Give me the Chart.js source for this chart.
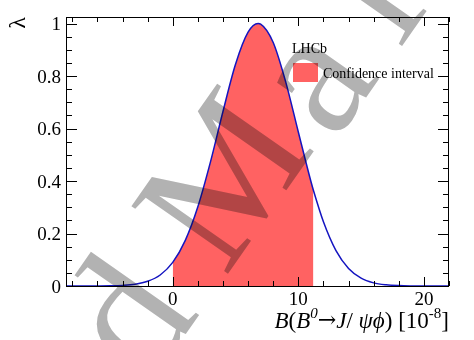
<!DOCTYPE html>
<html>
<head>
<meta charset="utf-8">
<script src="https://cdn.jsdelivr.net/npm/chart.js@4.4.1/dist/chart.umd.min.js"></script>
<style>
  html, body { margin: 0; padding: 0; background: #fff; }
  #wrap { width: 474px; height: 340px; }
</style>
</head>
<body>
<div id="wrap"><canvas id="lambdaChart" width="474" height="340"></canvas></div>
<script>
// ==========================================
// 1. DATA
// ==========================================
const curveX = [-8.5, -8, -7, -6, -5, -4, -3, -2, -1, 0, 1, 2, 3, 4, 5, 6, 6.8, 7, 8, 9, 10, 11, 11.2, 12, 13, 14, 15, 16, 17, 18, 19, 20, 21, 22];
const curveY = [0, 0, 0, 0.0002, 0.0007, 0.0023, 0.0067, 0.018, 0.042, 0.090, 0.174, 0.302, 0.472, 0.665, 0.845, 0.967, 1.0, 0.998, 0.928, 0.777, 0.587, 0.399, 0.365, 0.245, 0.135, 0.067, 0.030, 0.012, 0.0045, 0.0015, 0.0004, 0.0001, 0, 0];
const intervalBounds = [0, 11.2];

const xRange = [-8.5, 22];
const yRange = [0, 1.025];
const xMajorTicks = [0, 10, 20];
const xMinorStep = 2;
const yMajorTicks = [0, 0.2, 0.4, 0.6, 0.8, 1];
const yTickLabels = ["0", "0.2", "0.4", "0.6", "0.8", "1"];
const yMinorStep = 0.05;

const legendHeader = "LHCb";
const legendLabel = "Confidence interval";

const RED = "#ff6262";
const BLUE = "#1414c0";
const SERIF = '"Liberation Serif", "DejaVu Serif", serif';

const curvePoints = curveX.map((x, i) => ({ x: x, y: curveY[i] }));
const intervalPoints = curvePoints.filter(p => p.x >= intervalBounds[0] && p.x <= intervalBounds[1]);

// ==========================================
// 2. FRAME, TICKS, LABELS (ROOT style)
// ==========================================
const frameAndText = {
    id: 'frameAndText',
    afterDraw(chart) {
        const ctx = chart.ctx;
        const a = chart.chartArea;
        const xs = chart.scales.x;
        const ys = chart.scales.y;
        ctx.save();
        ctx.strokeStyle = "#000";
        ctx.lineWidth = 1;
        ctx.strokeRect(a.left + 0.5, a.top + 0.5, a.right - a.left - 1, a.bottom - a.top);

        // x ticks (bottom + top, inward)
        ctx.beginPath();
        for (let v = -8; v <= xRange[1]; v += xMinorStep) {
            const px = Math.round(xs.getPixelForValue(v)) + 0.5;
            const len = xMajorTicks.includes(v) ? 9 : 5;
            ctx.moveTo(px, a.bottom); ctx.lineTo(px, a.bottom - len);
            ctx.moveTo(px, a.top); ctx.lineTo(px, a.top + len);
        }
        // y ticks (left + right, inward)
        for (let k = 0; k * yMinorStep <= yRange[1] + 1e-9; k++) {
            const v = k * yMinorStep;
            const py = Math.round(ys.getPixelForValue(v)) + 0.5;
            const len = (k % 4 === 0) ? 11 : 6;
            ctx.moveTo(a.left, py); ctx.lineTo(a.left + len, py);
            ctx.moveTo(a.right, py); ctx.lineTo(a.right - len, py);
        }
        ctx.stroke();

        // tick labels
        ctx.fillStyle = "#000";
        ctx.font = "19px " + SERIF;
        ctx.textBaseline = "alphabetic";
        ctx.textAlign = "center";
        xMajorTicks.forEach(v => ctx.fillText(String(v), xs.getPixelForValue(v), 305));
        ctx.textAlign = "right";
        yMajorTicks.forEach((v, i) => ctx.fillText(yTickLabels[i], 61, ys.getPixelForValue(v) + 6.5));

        // y title: lambda, rotated
        ctx.save();
        ctx.translate(25, 17);
        ctx.rotate(-Math.PI / 2);
        ctx.font = "24px " + SERIF;
        ctx.textAlign = "right";
        ctx.fillText("λ", 0, 0);
        ctx.restore();

        // x title with superscripts, right aligned to the frame
        const it = "italic 23px " + SERIF, up = "23px " + SERIF;
        const itSup = "italic 15px " + SERIF, upSup = "15px " + SERIF;
        const arrow = "22px \"DejaVu Serif\"";
        const parts = [
            [it, "B", 0], [up, "(", 0], [it, "B", 0], [itSup, "0", -10],
            [arrow, "→", -1], [it, "J", 0], [up, "/ ", 0], [it, "ψ", 0], [it, "ϕ", 0],
            [up, ") [10", 0], [upSup, "-8", -10], [up, "]", 0]
        ];
        let total = 0;
        parts.forEach(p => { ctx.font = p[0]; total += ctx.measureText(p[1]).width; });
        let cx = a.right - total;
        ctx.textAlign = "left";
        parts.forEach(p => {
            ctx.font = p[0];
            ctx.fillText(p[1], cx, 328 + p[2]);
            cx += ctx.measureText(p[1]).width;
        });

        // legend
        ctx.font = "14px " + SERIF;
        ctx.fillText(legendHeader, 292, 53);
        ctx.fillStyle = RED;
        ctx.fillRect(293, 63, 25, 19);
        ctx.fillStyle = "#000";
        ctx.fillText(legendLabel, 323, 78);

        // grey watermark over everything, one glyph at a time along a tilted baseline
        ctx.globalCompositeOperation = "multiply";
        ctx.fillStyle = "rgb(178,178,178)";
        ctx.font = "180px " + SERIF;
        ctx.translate(225, 278);
        ctx.rotate(-55 * Math.PI / 180);
        ctx.textAlign = "left";
        [["d", -133, 0], ["M", 0, 0], ["a", 174, 12], ["l", 288, 12]].forEach(g => ctx.fillText(g[0], g[1], g[2]));
        ctx.restore();
    }
};

// ==========================================
// 3. CHART
// ==========================================
new Chart(document.getElementById("lambdaChart"), {
    type: 'line',
    data: {
        datasets: [
            {
                label: legendLabel,
                data: intervalPoints,
                fill: 'origin',
                backgroundColor: RED,
                borderWidth: 0,
                pointRadius: 0,
                cubicInterpolationMode: 'monotone',
                order: 2
            },
            {
                label: 'lambda',
                data: curvePoints,
                fill: false,
                borderColor: BLUE,
                borderWidth: 1.5,
                pointRadius: 0,
                cubicInterpolationMode: 'monotone',
                order: 1
            }
        ]
    },
    options: {
        responsive: false,
        animation: false,
        devicePixelRatio: 1,
        layout: { padding: { left: 66, right: 25, top: 17, bottom: 54 } },
        plugins: { legend: { display: false }, tooltip: { enabled: false } },
        scales: {
            x: { type: 'linear', min: xRange[0], max: xRange[1], display: false },
            y: { type: 'linear', min: yRange[0], max: yRange[1], display: false }
        }
    },
    plugins: [frameAndText]
});
</script>
</body>
</html>
